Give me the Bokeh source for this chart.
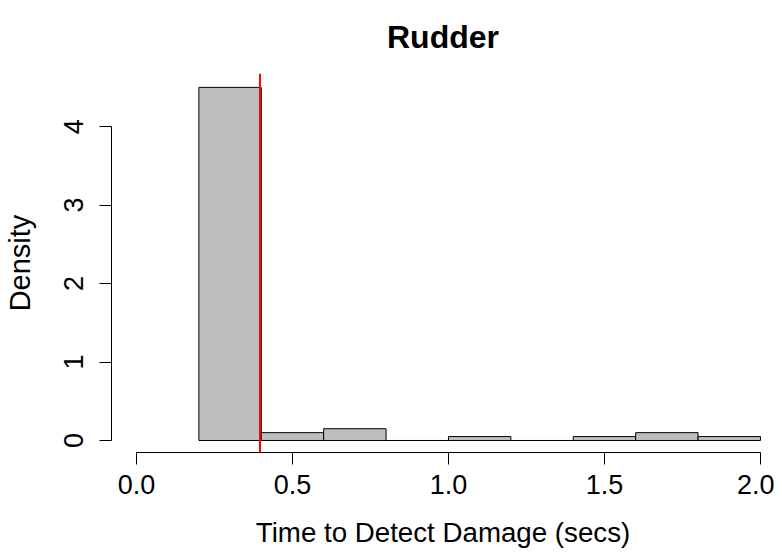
from bokeh.plotting import figure
from bokeh.models import Range1d, FixedTicker, PrintfTickFormatter, Span, Title
from bokeh.embed import file_html
from bokeh.resources import INLINE

# Data
bin_left = [0.2, 0.4, 0.6, 0.8, 1.0, 1.2, 1.4, 1.6, 1.8]
bin_right = [0.4, 0.6, 0.8, 1.0, 1.2, 1.4, 1.6, 1.8, 2.0]
density = [4.5, 0.1, 0.15, 0.0, 0.05, 0.0, 0.05, 0.1, 0.05]
threshold = 0.396
x_ticks = [0.0, 0.5, 1.0, 1.5, 2.0]
y_ticks = [0, 1, 2, 3, 4]
title_text = "Rudder"

FONT = "Liberation Sans"

p = figure(width=774, height=550, output_backend="svg", toolbar_location=None,
           x_range=Range1d(-0.08, 2.045), y_range=Range1d(-0.153, 4.677),
           min_border_left=111, min_border_right=0, min_border_top=73,
           min_border_bottom=97)
p.outline_line_color = None
p.xgrid.visible = False
p.ygrid.visible = False
p.background_fill_color = "white"
p.border_fill_color = "white"

p.title = Title(text=title_text, align="center", vertical_align="top", standoff=34,
                text_font=FONT, text_font_size="32px", text_font_style="bold",
                text_color="black")

p.quad(left=bin_left, right=bin_right, bottom=[0] * len(density), top=density,
       fill_color="#BEBEBE", line_color="black", line_width=1)

p.add_layout(Span(location=threshold, dimension="height", line_color="red", line_width=2))

for ax in (p.xaxis[0], p.yaxis[0]):
    ax.axis_line_color = "black"
    ax.major_tick_line_color = "black"
    ax.minor_tick_line_color = None
    ax.major_tick_in = 0
    ax.major_tick_out = 12
    ax.major_label_text_font = FONT
    ax.major_label_text_font_size = "27px"
    ax.major_label_text_color = "black"
    ax.axis_label_text_font = FONT
    ax.axis_label_text_font_style = "normal"
    ax.axis_label_text_color = "black"

xa = p.xaxis[0]
xa.ticker = FixedTicker(ticks=x_ticks)
xa.formatter = PrintfTickFormatter(format="%.1f")
xa.bounds = (0, 2)
xa.axis_label = "Time to Detect Damage (secs)"
xa.axis_label_text_font_size = "27.7px"
xa.major_label_standoff = 10
xa.axis_label_standoff = 20

ya = p.yaxis[0]
ya.ticker = FixedTicker(ticks=y_ticks)
ya.bounds = (0, 4)
ya.axis_label = "Density"
ya.axis_label_text_font_size = "29px"
ya.major_label_orientation = "vertical"
ya.major_label_standoff = 16
ya.axis_label_standoff = 26

open("out.html", "w").write(file_html(p, INLINE))
